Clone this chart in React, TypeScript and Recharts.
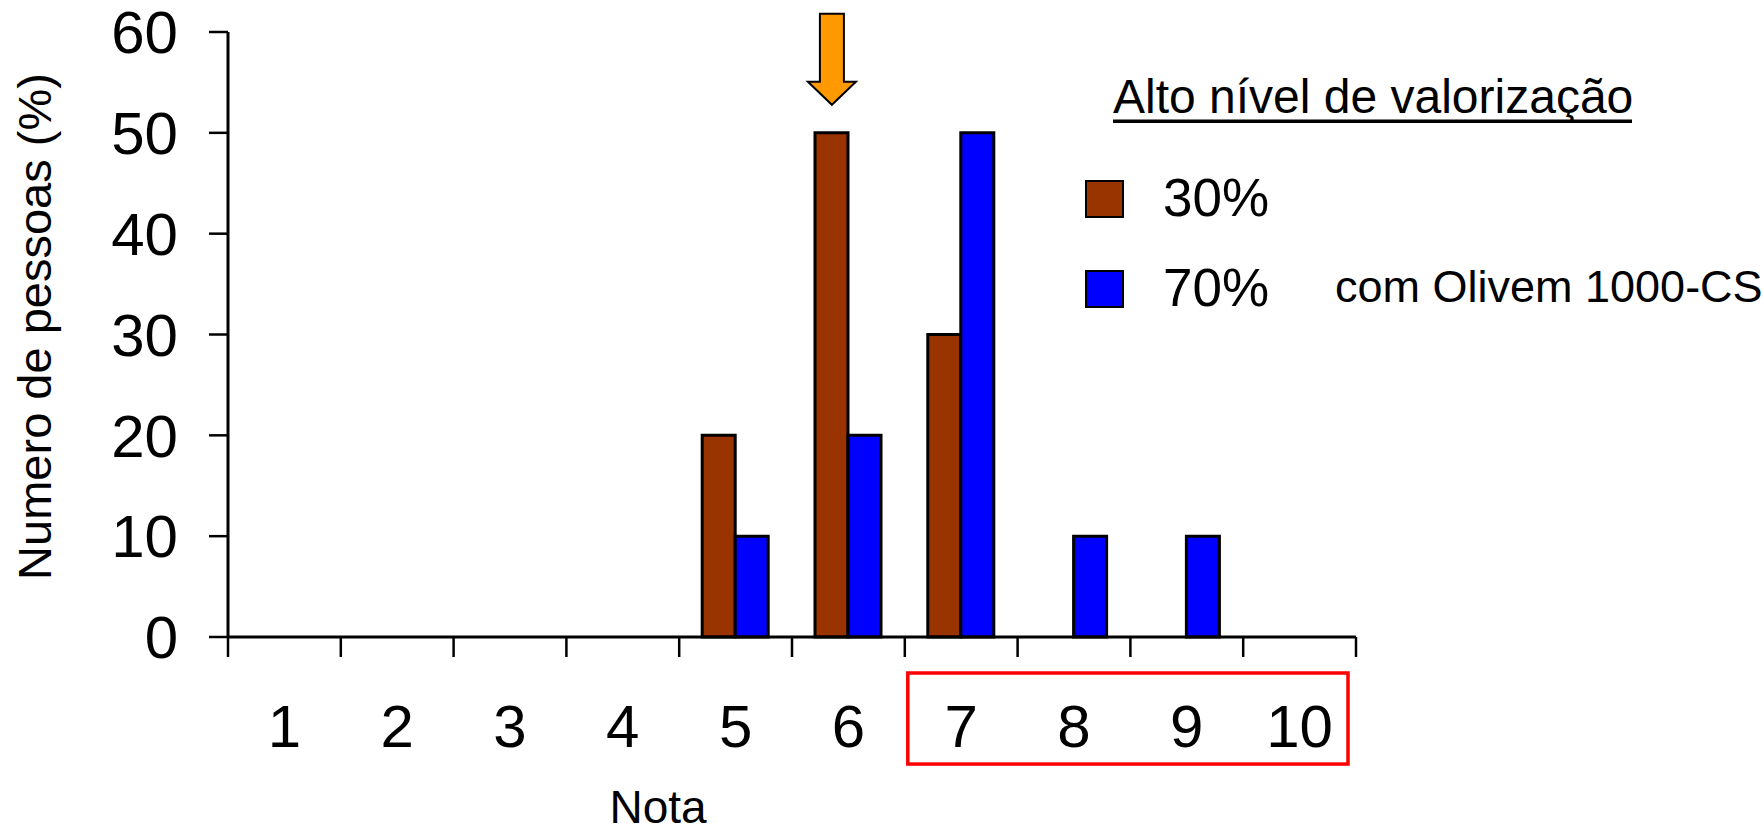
import { BarChart, Bar, XAxis, YAxis, Label, Legend, ReferenceArea, ReferenceDot } from "recharts";

// scores on the x axis and share of people (%) per score
const notas = ["1", "2", "3", "4", "5", "6", "7", "8", "9", "10"];
const valores30 = [0, 0, 0, 0, 20, 50, 30, 0, 0, 0];
const valores70 = [0, 0, 0, 0, 10, 20, 50, 10, 10, 0];
const yTicks = [0, 10, 20, 30, 40, 50, 60];

const seriesNames = ["30%", "70%"];
const legendTitle = "Alto nível de valorização";
const legendNote = "com Olivem 1000-CS";
const notaMarcada = "6";
const destaqueDe = "7";
const destaqueAte = "10";

const FONT = '"Liberation Sans", Arial, sans-serif';
const W = 1764;
const H = 835;
const PLOT_W = 1128;
const BAND = PLOT_W / notas.length;
const BAR_SIZE = 33;
const TICK_SIZE = 20;
const TICK_MARGIN = 47;

const data = notas.map((nota, i) => ({
  nota,
  s30: valores30[i],
  s70: valores70[i],
}));

// ticks sit on band edges, labels in band centre
function NotaTick(props: any) {
  const { x, y, payload, index } = props;
  const axisY = y - TICK_SIZE - TICK_MARGIN;
  const left = x - BAND / 2;
  const right = x + BAND / 2;
  return (
    <g>
      <line x1={left} x2={left} y1={axisY} y2={axisY + TICK_SIZE} stroke="#000" strokeWidth={2.5} />
      {index === notas.length - 1 && (
        <line x1={right} x2={right} y1={axisY} y2={axisY + TICK_SIZE} stroke="#000" strokeWidth={2.5} />
      )}
      <text x={x} y={y} dy="0.71em" textAnchor="middle" fontSize={60} fontFamily={FONT} fill="#000">
        {payload.value}
      </text>
    </g>
  );
}

function MarkArrow(props: any) {
  const { cx, cy } = props;
  if (cx == null || cy == null) return null;
  const tx = cx - BAR_SIZE / 2;
  const ty = cy - 28;
  const pts = [
    [tx - 12, ty - 91],
    [tx + 12, ty - 91],
    [tx + 12, ty - 23],
    [tx + 24, ty - 23],
    [tx, ty],
    [tx - 24, ty - 23],
    [tx - 12, ty - 23],
  ];
  return (
    <polygon
      points={pts.map((p) => p.join(",")).join(" ")}
      fill="#FF9900"
      stroke="#000"
      strokeWidth={2}
    />
  );
}

function HighlightBox(props: any) {
  const { x, y, width, height } = props;
  return (
    <rect x={x + 3} y={y} width={width - 11} height={height} fill="none" stroke="#FF0000" strokeWidth={3.5} />
  );
}

function LegendBox(props: any) {
  const items = props.payload ?? [];
  return (
    <svg width={684} height={270} style={{ display: "block", overflow: "visible" }}>
      <text x={33} y={53} fontSize={48} fontFamily={FONT} fill="#000">
        {legendTitle}
      </text>
      <rect x={33} y={59.5} width={519} height={3.5} fill="#000" />
      {items.map((it: any, i: number) => {
        const top = 121 + i * 90;
        return (
          <g key={it.value}>
            <rect x={6} y={top} width={37} height={36} fill={it.color} stroke="#000" strokeWidth={2} />
            <text x={83} y={top + 35} fontSize={53} fontFamily={FONT} fill="#000">
              {it.value}
            </text>
            {it.dataKey === "s70" && (
              <text x={255} y={top + 31} fontSize={45} fontFamily={FONT} fill="#000">
                {legendNote}
              </text>
            )}
          </g>
        );
      })}
    </svg>
  );
}

export default function App() {
  return (
    <div style={{ position: "absolute", left: 0, top: 0, background: "#fff" }}>
      <BarChart
        width={W}
        height={H}
        data={data}
        margin={{ top: 32, right: W - 228 - PLOT_W, bottom: 0, left: 0 }}
        barGap={0}
        barSize={BAR_SIZE}
      >
        <XAxis
          dataKey="nota"
          height={198}
          interval={0}
          axisLine={{ stroke: "#000", strokeWidth: 3 }}
          tickLine={false}
          tickSize={TICK_SIZE}
          tickMargin={TICK_MARGIN}
          tick={<NotaTick />}
        >
          <Label
            content={(p: any) => {
              const vb = p.viewBox;
              return (
                <text x={vb.x + 430} y={vb.y + 186} textAnchor="middle" fontSize={46} fontFamily={FONT} fill="#000">
                  Nota
                </text>
              );
            }}
          />
        </XAxis>
        <YAxis
          width={228}
          domain={[0, 60]}
          ticks={yTicks}
          interval={0}
          axisLine={{ stroke: "#000", strokeWidth: 3 }}
          tickLine={{ stroke: "#000", strokeWidth: 2.5 }}
          tickSize={19}
          tickMargin={31}
          tick={{ fontSize: 60, fill: "#000", fontFamily: FONT }}
        >
          <Label
            content={(p: any) => {
              const vb = p.viewBox;
              const cx = vb.x + 51;
              const cy = vb.y + vb.height / 2 - 8;
              return (
                <text
                  x={cx}
                  y={cy}
                  transform={`rotate(-90, ${cx}, ${cy})`}
                  textAnchor="middle"
                  fontSize={47}
                  fontFamily={FONT}
                  fill="#000"
                >
                  Numero de pessoas (%)
                </text>
              );
            }}
          />
        </YAxis>
        <Legend
          layout="vertical"
          align="center"
          verticalAlign="middle"
          wrapperStyle={{ left: 1080, top: 60, width: 684, height: 270 }}
          content={<LegendBox />}
        />
        <Bar dataKey="s30" name={seriesNames[0]} fill="#993300" stroke="#000" strokeWidth={3} isAnimationActive={false} />
        <Bar dataKey="s70" name={seriesNames[1]} fill="#0000FF" stroke="#000" strokeWidth={3} isAnimationActive={false} />
        <ReferenceDot x={notaMarcada} y={50} ifOverflow="visible" shape={<MarkArrow />} />
        <ReferenceArea
          x1={destaqueDe}
          x2={destaqueAte}
          y1={-3.57}
          y2={-12.6}
          ifOverflow="visible"
          shape={<HighlightBox />}
        />
      </BarChart>
    </div>
  );
}
